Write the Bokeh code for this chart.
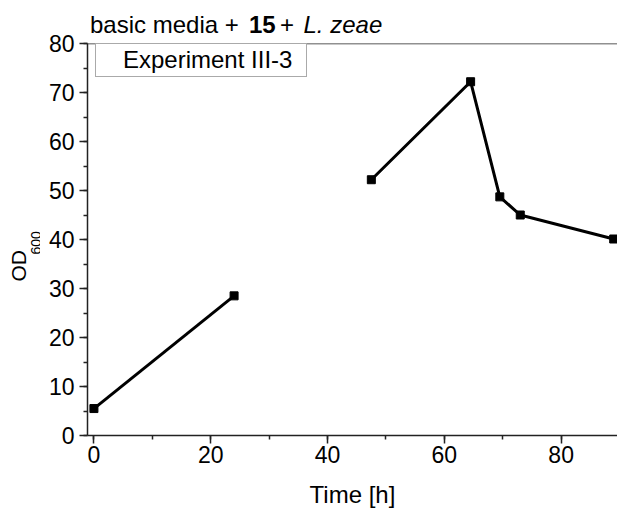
import math
from bokeh.plotting import figure
from bokeh.layouts import column, row
from bokeh.models import (Legend, LegendItem, Span, Range1d,
                          SingleIntervalTicker)
from bokeh.core.properties import value
from bokeh.embed import file_html
from bokeh.resources import INLINE

# ---- data ----
time_h = [0, 24, 47.5, 64.5, 69.5, 73, 89]
od600 = [5.5, 28.5, 52.2, 72.2, 48.7, 45.0, 40.1]
segment = [1, 1, 2, 2, 2, 2, 2]   # the line is broken between runs
series_name = "Experiment III-3"
title_parts = ["basic media +", "15", "+", "L. zeae"]
title_styles = ["normal", "bold", "normal", "italic"]
y_label_main, y_label_sub = "OD", "600"
x_ticks_interval = 20
y_ticks_interval = 10

FONT = "Liberation Sans"
PAGE_W, PAGE_H = 617, 510
TITLE_H = 33
YLAB_W = 40
X0, X1 = -1.1, 89.65
Y0, Y1 = 0, 80


def strip(w, h):
    f = figure(frame_width=w, frame_height=h, output_backend="svg",
               toolbar_location=None, title_location=None,
               x_range=Range1d(0, w), y_range=Range1d(0, h),
               min_border_left=0, min_border_right=0, min_border_top=0,
               min_border_bottom=0, x_axis_location=None,
               y_axis_location=None)
    f.outline_line_color = None
    f.grid.visible = False
    return f


# ---------- title strip (pixel coordinates, y up) ----------
tf = strip(PAGE_W, TITLE_H)
title_x = [89.5, 248.5, 279.5, 303]
for tx, txt, style in zip(title_x, title_parts, title_styles):
    tf.text(x=[tx], y=[TITLE_H - 31.7 + 8], text=[txt], text_font=value(FONT),
            text_font_size="24px", text_font_style=style, text_color="black",
            text_align="left", text_baseline="alphabetic")

# ---------- y label strip ----------
MAIN_H = PAGE_H - TITLE_H
yf = strip(YLAB_W, MAIN_H)
yf.text(x=[17.5], y=[PAGE_H - 271], text=[y_label_main], angle=math.pi / 2,
        text_font=value(FONT), text_font_size="21px", text_color="black",
        text_align="left", text_baseline="alphabetic")
yf.text(x=[35], y=[PAGE_H - 244], text=[y_label_sub], angle=math.pi / 2,
        text_font=value(FONT), text_font_size="14px", text_color="black",
        text_align="left", text_baseline="alphabetic")

# ---------- main plot ----------
W = PAGE_W - YLAB_W
BL, BT, BB = 87 - YLAB_W, 43 - TITLE_H, 75
p = figure(width=W, height=MAIN_H, output_backend="svg", toolbar_location=None,
           title_location=None,
           x_range=Range1d(X0, X1), y_range=Range1d(Y0, Y1),
           min_border_left=BL, min_border_right=0, min_border_top=BT,
           min_border_bottom=BB)
p.outline_line_color = None
p.xgrid.visible = False
p.ygrid.visible = False
p.background_fill_color = "white"
fh = MAIN_H - BT - BB

for seg in sorted(set(segment)):
    xs = [t for t, s in zip(time_h, segment) if s == seg]
    ys = [v for v, s in zip(od600, segment) if s == seg]
    p.line(xs, ys, line_color="black", line_width=3)
p.scatter(time_h, od600, marker="square", size=8, fill_color="black",
          line_color="black")

dummy = p.line([float("nan")], [float("nan")], line_alpha=0)
legend = Legend(items=[LegendItem(label=series_name, renderers=[dummy])],
                location=(8, fh - 2 - 31.5), padding=2, glyph_width=20,
                label_standoff=5, label_width=181, spacing=0,
                border_line_color="#555555", border_line_width=1,
                label_text_font=FONT, label_text_font_size="24px",
                label_text_color="black",
                background_fill_alpha=1, margin=0)
p.add_layout(legend, "center")

for ax in (p.xaxis[0], p.yaxis[0]):
    ax.axis_line_color = "#222222"
    ax.axis_line_width = 1.5
    ax.major_tick_line_color = "#222222"
    ax.minor_tick_line_color = "#222222"
    ax.major_tick_line_width = 1.5
    ax.minor_tick_line_width = 1.5
    ax.major_tick_in = 0
    ax.major_tick_out = 8
    ax.minor_tick_in = 0
    ax.minor_tick_out = 4
    ax.major_label_text_font = FONT
    ax.major_label_text_font_size = "23px"
    ax.major_label_text_color = "black"

p.xaxis.ticker = SingleIntervalTicker(interval=x_ticks_interval, num_minor_ticks=2)
p.yaxis.ticker = SingleIntervalTicker(interval=y_ticks_interval, num_minor_ticks=2)
p.xaxis.major_label_standoff = 2
p.yaxis.major_label_standoff = 5
p.xaxis.axis_label = "Time [h]"
p.xaxis.axis_label_text_font = FONT
p.xaxis.axis_label_text_font_size = "24px"
p.xaxis.axis_label_text_font_style = "normal"
p.xaxis.axis_label_standoff = 15
p.xaxis.axis_label_text_color = "black"

# top border line
p.add_layout(Span(location=Y1, dimension="width", line_color="#222222",
                  line_width=1.5))

layout = column(tf, row(yf, p, spacing=0), spacing=0)
open("out.html", "w").write(file_html(layout, INLINE))
